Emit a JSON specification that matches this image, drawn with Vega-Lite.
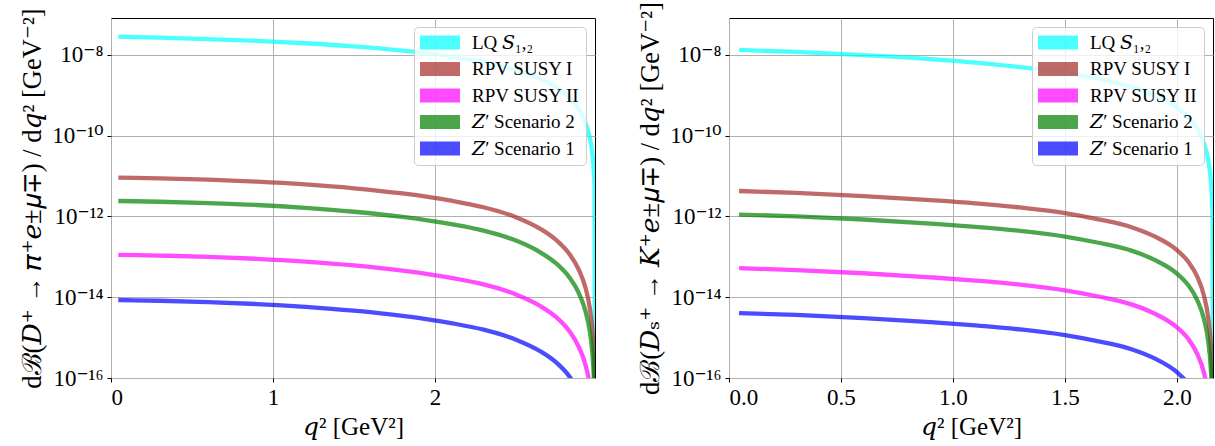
{
  "$schema": "https://vega.github.io/schema/vega-lite/v6.json",
  "background": "white",
  "padding": {"left": 19, "top": 0, "right": 0, "bottom": 0},
  "autosize": {"type": "pad"},
  "spacing": 41,
  "datasets": {
    "dpi": [
      {"q2": 0.045, "dB": 2.79e-8, "model": "LQ 𝑆₁,₂"},
      {"q2": 0.3, "dB": 2.65e-8, "model": "LQ 𝑆₁,₂"},
      {"q2": 0.6, "dB": 2.44e-8, "model": "LQ 𝑆₁,₂"},
      {"q2": 0.9, "dB": 2.20e-8, "model": "LQ 𝑆₁,₂"},
      {"q2": 1.2, "dB": 1.92e-8, "model": "LQ 𝑆₁,₂"},
      {"q2": 1.5, "dB": 1.61e-8, "model": "LQ 𝑆₁,₂"},
      {"q2": 1.8, "dB": 1.26e-8, "model": "LQ 𝑆₁,₂"},
      {"q2": 2.1, "dB": 9.02e-9, "model": "LQ 𝑆₁,₂"},
      {"q2": 2.3, "dB": 6.56e-9, "model": "LQ 𝑆₁,₂"},
      {"q2": 2.5, "dB": 4.19e-9, "model": "LQ 𝑆₁,₂"},
      {"q2": 2.65, "dB": 2.54e-9, "model": "LQ 𝑆₁,₂"},
      {"q2": 2.75, "dB": 1.56e-9, "model": "LQ 𝑆₁,₂"},
      {"q2": 2.83, "dB": 8.69e-10, "model": "LQ 𝑆₁,₂"},
      {"q2": 2.89, "dB": 4.38e-10, "model": "LQ 𝑆₁,₂"},
      {"q2": 2.93, "dB": 2.06e-10, "model": "LQ 𝑆₁,₂"},
      {"q2": 2.955, "dB": 9.27e-11, "model": "LQ 𝑆₁,₂"},
      {"q2": 2.97, "dB": 4.02e-11, "model": "LQ 𝑆₁,₂"},
      {"q2": 2.98, "dB": 1.42e-11, "model": "LQ 𝑆₁,₂"},
      {"q2": 2.985, "dB": 5.05e-12, "model": "LQ 𝑆₁,₂"},
      {"q2": 2.988, "dB": 1e-20, "model": "LQ 𝑆₁,₂"},

      {"q2": 0.045, "dB": 9.12e-12, "model": "RPV SUSY I"},
      {"q2": 0.3, "dB": 8.73e-12, "model": "RPV SUSY I"},
      {"q2": 0.6, "dB": 8.09e-12, "model": "RPV SUSY I"},
      {"q2": 0.9, "dB": 7.24e-12, "model": "RPV SUSY I"},
      {"q2": 1.2, "dB": 6.17e-12, "model": "RPV SUSY I"},
      {"q2": 1.5, "dB": 4.95e-12, "model": "RPV SUSY I"},
      {"q2": 1.8, "dB": 3.68e-12, "model": "RPV SUSY I"},
      {"q2": 2.1, "dB": 2.44e-12, "model": "RPV SUSY I"},
      {"q2": 2.3, "dB": 1.68e-12, "model": "RPV SUSY I"},
      {"q2": 2.5, "dB": 9.53e-13, "model": "RPV SUSY I"},
      {"q2": 2.65, "dB": 4.92e-13, "model": "RPV SUSY I"},
      {"q2": 2.75, "dB": 2.56e-13, "model": "RPV SUSY I"},
      {"q2": 2.83, "dB": 1.17e-13, "model": "RPV SUSY I"},
      {"q2": 2.89, "dB": 4.60e-14, "model": "RPV SUSY I"},
      {"q2": 2.93, "dB": 1.67e-14, "model": "RPV SUSY I"},
      {"q2": 2.955, "dB": 5.69e-15, "model": "RPV SUSY I"},
      {"q2": 2.97, "dB": 1.87e-15, "model": "RPV SUSY I"},
      {"q2": 2.98, "dB": 4.66e-16, "model": "RPV SUSY I"},
      {"q2": 2.985, "dB": 1.17e-16, "model": "RPV SUSY I"},
      {"q2": 2.988, "dB": 1e-20, "model": "RPV SUSY I"},

      {"q2": 0.045, "dB": 1.12e-13, "model": "RPV SUSY II"},
      {"q2": 0.3, "dB": 1.07e-13, "model": "RPV SUSY II"},
      {"q2": 0.6, "dB": 9.95e-14, "model": "RPV SUSY II"},
      {"q2": 0.9, "dB": 8.91e-14, "model": "RPV SUSY II"},
      {"q2": 1.2, "dB": 7.59e-14, "model": "RPV SUSY II"},
      {"q2": 1.5, "dB": 6.10e-14, "model": "RPV SUSY II"},
      {"q2": 1.8, "dB": 4.53e-14, "model": "RPV SUSY II"},
      {"q2": 2.1, "dB": 3.00e-14, "model": "RPV SUSY II"},
      {"q2": 2.3, "dB": 2.07e-14, "model": "RPV SUSY II"},
      {"q2": 2.5, "dB": 1.17e-14, "model": "RPV SUSY II"},
      {"q2": 2.65, "dB": 6.05e-15, "model": "RPV SUSY II"},
      {"q2": 2.75, "dB": 3.16e-15, "model": "RPV SUSY II"},
      {"q2": 2.83, "dB": 1.44e-15, "model": "RPV SUSY II"},
      {"q2": 2.89, "dB": 5.66e-16, "model": "RPV SUSY II"},
      {"q2": 2.93, "dB": 2.05e-16, "model": "RPV SUSY II"},
      {"q2": 2.955, "dB": 7.00e-17, "model": "RPV SUSY II"},
      {"q2": 2.97, "dB": 2.30e-17, "model": "RPV SUSY II"},
      {"q2": 2.98, "dB": 5.73e-18, "model": "RPV SUSY II"},
      {"q2": 2.985, "dB": 1.44e-18, "model": "RPV SUSY II"},
      {"q2": 2.988, "dB": 1e-20, "model": "RPV SUSY II"},

      {"q2": 0.045, "dB": 2.40e-12, "model": "𝑍′ Scenario 2"},
      {"q2": 0.3, "dB": 2.30e-12, "model": "𝑍′ Scenario 2"},
      {"q2": 0.6, "dB": 2.13e-12, "model": "𝑍′ Scenario 2"},
      {"q2": 0.9, "dB": 1.91e-12, "model": "𝑍′ Scenario 2"},
      {"q2": 1.2, "dB": 1.62e-12, "model": "𝑍′ Scenario 2"},
      {"q2": 1.5, "dB": 1.30e-12, "model": "𝑍′ Scenario 2"},
      {"q2": 1.8, "dB": 9.68e-13, "model": "𝑍′ Scenario 2"},
      {"q2": 2.1, "dB": 6.41e-13, "model": "𝑍′ Scenario 2"},
      {"q2": 2.3, "dB": 4.43e-13, "model": "𝑍′ Scenario 2"},
      {"q2": 2.5, "dB": 2.51e-13, "model": "𝑍′ Scenario 2"},
      {"q2": 2.65, "dB": 1.29e-13, "model": "𝑍′ Scenario 2"},
      {"q2": 2.75, "dB": 6.75e-14, "model": "𝑍′ Scenario 2"},
      {"q2": 2.83, "dB": 3.07e-14, "model": "𝑍′ Scenario 2"},
      {"q2": 2.89, "dB": 1.21e-14, "model": "𝑍′ Scenario 2"},
      {"q2": 2.93, "dB": 4.39e-15, "model": "𝑍′ Scenario 2"},
      {"q2": 2.955, "dB": 1.50e-15, "model": "𝑍′ Scenario 2"},
      {"q2": 2.97, "dB": 4.91e-16, "model": "𝑍′ Scenario 2"},
      {"q2": 2.98, "dB": 1.22e-16, "model": "𝑍′ Scenario 2"},
      {"q2": 2.985, "dB": 3.07e-17, "model": "𝑍′ Scenario 2"},
      {"q2": 2.988, "dB": 1e-20, "model": "𝑍′ Scenario 2"},

      {"q2": 0.045, "dB": 8.51e-15, "model": "𝑍′ Scenario 1"},
      {"q2": 0.3, "dB": 8.15e-15, "model": "𝑍′ Scenario 1"},
      {"q2": 0.6, "dB": 7.55e-15, "model": "𝑍′ Scenario 1"},
      {"q2": 0.9, "dB": 6.76e-15, "model": "𝑍′ Scenario 1"},
      {"q2": 1.2, "dB": 5.75e-15, "model": "𝑍′ Scenario 1"},
      {"q2": 1.5, "dB": 4.62e-15, "model": "𝑍′ Scenario 1"},
      {"q2": 1.8, "dB": 3.44e-15, "model": "𝑍′ Scenario 1"},
      {"q2": 2.1, "dB": 2.28e-15, "model": "𝑍′ Scenario 1"},
      {"q2": 2.3, "dB": 1.57e-15, "model": "𝑍′ Scenario 1"},
      {"q2": 2.5, "dB": 8.89e-16, "model": "𝑍′ Scenario 1"},
      {"q2": 2.65, "dB": 4.59e-16, "model": "𝑍′ Scenario 1"},
      {"q2": 2.75, "dB": 2.39e-16, "model": "𝑍′ Scenario 1"},
      {"q2": 2.83, "dB": 1.09e-16, "model": "𝑍′ Scenario 1"},
      {"q2": 2.89, "dB": 4.30e-17, "model": "𝑍′ Scenario 1"},
      {"q2": 2.93, "dB": 1.56e-17, "model": "𝑍′ Scenario 1"},
      {"q2": 2.955, "dB": 5.31e-18, "model": "𝑍′ Scenario 1"},
      {"q2": 2.97, "dB": 1.74e-18, "model": "𝑍′ Scenario 1"},
      {"q2": 2.98, "dB": 4.35e-19, "model": "𝑍′ Scenario 1"},
      {"q2": 2.985, "dB": 1.09e-19, "model": "𝑍′ Scenario 1"},
      {"q2": 2.988, "dB": 1e-20, "model": "𝑍′ Scenario 1"}
    ],
    "dsk": [
      {"q2": 0.045, "dB": 1.31e-8, "model": "LQ 𝑆₁,₂"},
      {"q2": 0.3, "dB": 1.17e-8, "model": "LQ 𝑆₁,₂"},
      {"q2": 0.6, "dB": 9.79e-9, "model": "LQ 𝑆₁,₂"},
      {"q2": 0.9, "dB": 7.78e-9, "model": "LQ 𝑆₁,₂"},
      {"q2": 1.1, "dB": 6.38e-9, "model": "LQ 𝑆₁,₂"},
      {"q2": 1.3, "dB": 4.94e-9, "model": "LQ 𝑆₁,₂"},
      {"q2": 1.5, "dB": 3.53e-9, "model": "LQ 𝑆₁,₂"},
      {"q2": 1.65, "dB": 2.51e-9, "model": "LQ 𝑆₁,₂"},
      {"q2": 1.8, "dB": 1.56e-9, "model": "LQ 𝑆₁,₂"},
      {"q2": 1.9, "dB": 9.89e-10, "model": "LQ 𝑆₁,₂"},
      {"q2": 2.0, "dB": 4.93e-10, "model": "LQ 𝑆₁,₂"},
      {"q2": 2.05, "dB": 2.86e-10, "model": "LQ 𝑆₁,₂"},
      {"q2": 2.09, "dB": 1.49e-10, "model": "LQ 𝑆₁,₂"},
      {"q2": 2.12, "dB": 6.58e-11, "model": "LQ 𝑆₁,₂"},
      {"q2": 2.14, "dB": 2.42e-11, "model": "LQ 𝑆₁,₂"},
      {"q2": 2.15, "dB": 9.23e-12, "model": "LQ 𝑆₁,₂"},
      {"q2": 2.156, "dB": 2.83e-12, "model": "LQ 𝑆₁,₂"},
      {"q2": 2.159, "dB": 7.16e-13, "model": "LQ 𝑆₁,₂"},
      {"q2": 2.161, "dB": 1e-20, "model": "LQ 𝑆₁,₂"},

      {"q2": 0.045, "dB": 4.24e-12, "model": "RPV SUSY I"},
      {"q2": 0.3, "dB": 3.80e-12, "model": "RPV SUSY I"},
      {"q2": 0.6, "dB": 3.18e-12, "model": "RPV SUSY I"},
      {"q2": 0.9, "dB": 2.52e-12, "model": "RPV SUSY I"},
      {"q2": 1.1, "dB": 2.10e-12, "model": "RPV SUSY I"},
      {"q2": 1.3, "dB": 1.66e-12, "model": "RPV SUSY I"},
      {"q2": 1.5, "dB": 1.21e-12, "model": "RPV SUSY I"},
      {"q2": 1.65, "dB": 8.45e-13, "model": "RPV SUSY I"},
      {"q2": 1.8, "dB": 5.32e-13, "model": "RPV SUSY I"},
      {"q2": 1.9, "dB": 3.19e-13, "model": "RPV SUSY I"},
      {"q2": 2.0, "dB": 1.46e-13, "model": "RPV SUSY I"},
      {"q2": 2.05, "dB": 7.60e-14, "model": "RPV SUSY I"},
      {"q2": 2.09, "dB": 3.26e-14, "model": "RPV SUSY I"},
      {"q2": 2.12, "dB": 1.12e-14, "model": "RPV SUSY I"},
      {"q2": 2.14, "dB": 2.99e-15, "model": "RPV SUSY I"},
      {"q2": 2.15, "dB": 8.18e-16, "model": "RPV SUSY I"},
      {"q2": 2.156, "dB": 1.69e-16, "model": "RPV SUSY I"},
      {"q2": 2.159, "dB": 2.71e-17, "model": "RPV SUSY I"},
      {"q2": 2.161, "dB": 1e-20, "model": "RPV SUSY I"},

      {"q2": 0.045, "dB": 5.21e-14, "model": "RPV SUSY II"},
      {"q2": 0.3, "dB": 4.68e-14, "model": "RPV SUSY II"},
      {"q2": 0.6, "dB": 3.91e-14, "model": "RPV SUSY II"},
      {"q2": 0.9, "dB": 3.10e-14, "model": "RPV SUSY II"},
      {"q2": 1.1, "dB": 2.58e-14, "model": "RPV SUSY II"},
      {"q2": 1.3, "dB": 2.05e-14, "model": "RPV SUSY II"},
      {"q2": 1.5, "dB": 1.48e-14, "model": "RPV SUSY II"},
      {"q2": 1.65, "dB": 1.04e-14, "model": "RPV SUSY II"},
      {"q2": 1.8, "dB": 6.55e-15, "model": "RPV SUSY II"},
      {"q2": 1.9, "dB": 3.93e-15, "model": "RPV SUSY II"},
      {"q2": 2.0, "dB": 1.79e-15, "model": "RPV SUSY II"},
      {"q2": 2.05, "dB": 9.35e-16, "model": "RPV SUSY II"},
      {"q2": 2.09, "dB": 4.01e-16, "model": "RPV SUSY II"},
      {"q2": 2.12, "dB": 1.38e-16, "model": "RPV SUSY II"},
      {"q2": 2.14, "dB": 3.67e-17, "model": "RPV SUSY II"},
      {"q2": 2.15, "dB": 1.01e-17, "model": "RPV SUSY II"},
      {"q2": 2.156, "dB": 2.08e-18, "model": "RPV SUSY II"},
      {"q2": 2.159, "dB": 3.33e-19, "model": "RPV SUSY II"},
      {"q2": 2.161, "dB": 1e-20, "model": "RPV SUSY II"},

      {"q2": 0.045, "dB": 1.11e-12, "model": "𝑍′ Scenario 2"},
      {"q2": 0.3, "dB": 1.00e-12, "model": "𝑍′ Scenario 2"},
      {"q2": 0.6, "dB": 8.36e-13, "model": "𝑍′ Scenario 2"},
      {"q2": 0.9, "dB": 6.64e-13, "model": "𝑍′ Scenario 2"},
      {"q2": 1.1, "dB": 5.52e-13, "model": "𝑍′ Scenario 2"},
      {"q2": 1.3, "dB": 4.38e-13, "model": "𝑍′ Scenario 2"},
      {"q2": 1.5, "dB": 3.17e-13, "model": "𝑍′ Scenario 2"},
      {"q2": 1.65, "dB": 2.22e-13, "model": "𝑍′ Scenario 2"},
      {"q2": 1.8, "dB": 1.40e-13, "model": "𝑍′ Scenario 2"},
      {"q2": 1.9, "dB": 8.39e-14, "model": "𝑍′ Scenario 2"},
      {"q2": 2.0, "dB": 3.84e-14, "model": "𝑍′ Scenario 2"},
      {"q2": 2.05, "dB": 2.00e-14, "model": "𝑍′ Scenario 2"},
      {"q2": 2.09, "dB": 8.57e-15, "model": "𝑍′ Scenario 2"},
      {"q2": 2.12, "dB": 2.96e-15, "model": "𝑍′ Scenario 2"},
      {"q2": 2.14, "dB": 7.85e-16, "model": "𝑍′ Scenario 2"},
      {"q2": 2.15, "dB": 2.15e-16, "model": "𝑍′ Scenario 2"},
      {"q2": 2.156, "dB": 4.46e-17, "model": "𝑍′ Scenario 2"},
      {"q2": 2.159, "dB": 7.13e-18, "model": "𝑍′ Scenario 2"},
      {"q2": 2.161, "dB": 1e-20, "model": "𝑍′ Scenario 2"},

      {"q2": 0.045, "dB": 4.05e-15, "model": "𝑍′ Scenario 1"},
      {"q2": 0.3, "dB": 3.63e-15, "model": "𝑍′ Scenario 1"},
      {"q2": 0.6, "dB": 3.03e-15, "model": "𝑍′ Scenario 1"},
      {"q2": 0.9, "dB": 2.41e-15, "model": "𝑍′ Scenario 1"},
      {"q2": 1.1, "dB": 2.00e-15, "model": "𝑍′ Scenario 1"},
      {"q2": 1.3, "dB": 1.59e-15, "model": "𝑍′ Scenario 1"},
      {"q2": 1.5, "dB": 1.15e-15, "model": "𝑍′ Scenario 1"},
      {"q2": 1.65, "dB": 8.07e-16, "model": "𝑍′ Scenario 1"},
      {"q2": 1.8, "dB": 5.08e-16, "model": "𝑍′ Scenario 1"},
      {"q2": 1.9, "dB": 3.05e-16, "model": "𝑍′ Scenario 1"},
      {"q2": 2.0, "dB": 1.39e-16, "model": "𝑍′ Scenario 1"},
      {"q2": 2.05, "dB": 7.26e-17, "model": "𝑍′ Scenario 1"},
      {"q2": 2.09, "dB": 3.11e-17, "model": "𝑍′ Scenario 1"},
      {"q2": 2.12, "dB": 1.07e-17, "model": "𝑍′ Scenario 1"},
      {"q2": 2.14, "dB": 2.85e-18, "model": "𝑍′ Scenario 1"},
      {"q2": 2.15, "dB": 7.82e-19, "model": "𝑍′ Scenario 1"},
      {"q2": 2.156, "dB": 1.62e-19, "model": "𝑍′ Scenario 1"},
      {"q2": 2.159, "dB": 2.59e-20, "model": "𝑍′ Scenario 1"},
      {"q2": 2.161, "dB": 1e-21, "model": "𝑍′ Scenario 1"}
    ]
  },
  "config": {
    "view": {"stroke": "black", "strokeWidth": 1},
    "axis": {
      "labelFont": "Liberation Serif, DejaVu Serif",
      "labelFontSize": 23,
      "labelColor": "black",
      "titleFont": "Liberation Serif, DejaVu Serif",
      "titleFontSize": 26.5,
      "titleFontWeight": "normal",
      "titleColor": "black",
      "tickColor": "black",
      "tickSize": 4,
      "labelPadding": 4,
      "domain": false,
      "gridColor": "#b0b0b0",
      "gridWidth": 1
    },
    "axisX": {"titlePadding": 5, "titleFontSize": 25},
    "axisY": {"titlePadding": 5},
    "legend": {
      "orient": "top-right",
      "offset": 9,
      "fillColor": "rgba(255,255,255,0.8)",
      "strokeColor": "#cccccc",
      "strokeWidth": 1,
      "cornerRadius": 4,
      "padding": 6,
      "labelFont": "Liberation Serif, DejaVu Serif",
      "labelFontSize": 19,
      "labelColor": "black",
      "labelLimit": 300,
      "labelOffset": 33,
      "symbolType": "M-4.75,-3L15.25,-3M-4.75,-2L15.25,-2M-4.75,-1L15.25,-1M-4.75,0L15.25,0M-4.75,1L15.25,1M-4.75,2L15.25,2M-4.75,3L15.25,3",
      "symbolSize": 16,
      "symbolStrokeWidth": 2.2,
      "symbolOpacity": 0.7,
      "rowPadding": 5.5
    }
  },
  "resolve": {"scale": {"color": "independent"}, "legend": {"color": "independent"}},
  "hconcat": [
    {
      "width": 484,
      "height": 360,
      "data": {"name": "dpi"},
      "mark": {"type": "line", "strokeWidth": 4.3, "opacity": 0.7, "clip": true, "interpolate": "monotone"},
      "encoding": {
        "x": {
          "field": "q2", "type": "quantitative",
          "scale": {"domain": [0, 2.988], "nice": false, "zero": false},
          "axis": {"values": [0, 1, 2], "format": "d", "title": "𝑞² [GeV²]"}
        },
        "y": {
          "field": "dB", "type": "quantitative",
          "scale": {"type": "log", "domain": [1e-16, 8.1e-8], "nice": false},
          "axis": {
            "values": [1e-16, 1e-14, 1e-12, 1e-10, 1e-8],
            "labelExpr": "datum.value < 1e-15 ? '10⁻¹⁶' : datum.value < 1e-13 ? '10⁻¹⁴' : datum.value < 1e-11 ? '10⁻¹²' : datum.value < 1e-9 ? '10⁻¹⁰' : '10⁻⁸'",
            "title": "dℬ(𝐷⁺ → 𝜋⁺𝑒±𝜇∓) / d𝑞² [GeV⁻²]"
          }
        },
        "color": {
          "field": "model", "type": "nominal",
          "scale": {
            "domain": ["LQ 𝑆₁,₂", "RPV SUSY I", "RPV SUSY II", "𝑍′ Scenario 2", "𝑍′ Scenario 1"],
            "range": ["#00ffff", "#a52a2a", "#ff00ff", "#008000", "#0000ff"]
          },
          "legend": {"title": null}
        }
      }
    },
    {
      "width": 484,
      "height": 360,
      "data": {"name": "dsk"},
      "mark": {"type": "line", "strokeWidth": 4.3, "opacity": 0.7, "clip": true, "interpolate": "monotone"},
      "encoding": {
        "x": {
          "field": "q2", "type": "quantitative",
          "scale": {"domain": [0, 2.161], "nice": false, "zero": false},
          "axis": {"values": [0, 0.5, 1, 1.5, 2], "format": ".1f", "title": "𝑞² [GeV²]"}
        },
        "y": {
          "field": "dB", "type": "quantitative",
          "scale": {"type": "log", "domain": [1e-16, 8.1e-8], "nice": false},
          "axis": {
            "values": [1e-16, 1e-14, 1e-12, 1e-10, 1e-8],
            "labelExpr": "datum.value < 1e-15 ? '10⁻¹⁶' : datum.value < 1e-13 ? '10⁻¹⁴' : datum.value < 1e-11 ? '10⁻¹²' : datum.value < 1e-9 ? '10⁻¹⁰' : '10⁻⁸'",
            "title": "dℬ(𝐷ₛ⁺ → 𝐾⁺𝑒±𝜇∓) / d𝑞² [GeV⁻²]"
          }
        },
        "color": {
          "field": "model", "type": "nominal",
          "scale": {
            "domain": ["LQ 𝑆₁,₂", "RPV SUSY I", "RPV SUSY II", "𝑍′ Scenario 2", "𝑍′ Scenario 1"],
            "range": ["#00ffff", "#a52a2a", "#ff00ff", "#008000", "#0000ff"]
          },
          "legend": {"title": null}
        }
      }
    }
  ]
}
